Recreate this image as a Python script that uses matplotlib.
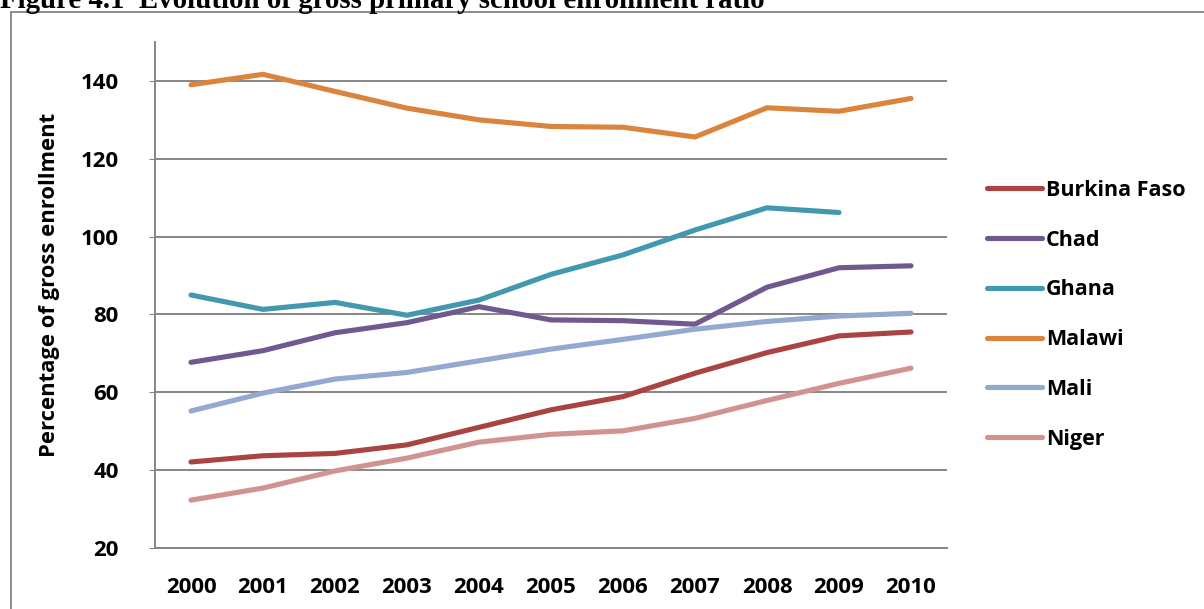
import numpy as np
import matplotlib
matplotlib.use("Agg")
from matplotlib import pyplot as plt
from matplotlib.lines import Line2D

# dados
years = ['2000', '2001', '2002', '2003', '2004', '2005', '2006', '2007', '2008', '2009', '2010']
burkina = [42.1, 43.7, 44.3, 46.5, 51.0, 55.5, 58.9, 64.9, 70.2, 74.5, 75.5]
chad = [67.7, 70.7, 75.3, 77.9, 82.0, 78.6, 78.4, 77.5, 87.0, 92.0, 92.5]
ghana = [85.0, 81.3, 83.1, 79.8, 83.7, 90.3, 95.3, 101.7, 107.4, 106.2, np.nan]
malawi = [139.0, 141.7, 137.3, 133.0, 130.0, 128.3, 128.1, 125.6, 133.1, 132.2, 135.5]
mali = [55.2, 59.8, 63.4, 65.1, 68.1, 71.1, 73.6, 76.2, 78.2, 79.6, 80.3]
niger = [32.3, 35.4, 39.8, 43.1, 47.2, 49.2, 50.1, 53.3, 57.9, 62.3, 66.2]

names = ['Burkina Faso', 'Chad', 'Ghana', 'Malawi', 'Mali', 'Niger']
series = [burkina, chad, ghana, malawi, mali, niger]
colors = ['#A94442', '#71588F', '#4198AF', '#DB843D', '#93A9CF', '#D19392']

fonte = 'Open Sans'
W, H = 1204, 609
fig = plt.figure(figsize=(W / 100, H / 100), dpi=100)
ax = fig.add_axes([155 / W, 1 - 548 / H, (947 - 155) / W, (548 - 42) / H])

x = np.arange(len(years))
for vals, nome, cor in zip(series, names, colors):
    ax.plot(x, vals, color=cor, lw=3.7, label=nome, solid_capstyle='round', solid_joinstyle='round')

ax.set_xlim(-0.5, len(years) - 0.5)
ax.set_ylim(20, 150)
ax.set_yticks(np.arange(20, 141, 20))
ax.set_xticks(x)
ax.set_xticklabels(years)
ax.yaxis.grid(True, color='#868686', lw=1.4)
ax.set_axisbelow(True)
for s in ['top', 'right']:
    ax.spines[s].set_visible(False)
ax.spines['left'].set_color('#868686')
ax.spines['bottom'].set_color('#868686')
ax.spines['left'].set_linewidth(1.4)
ax.spines['bottom'].set_linewidth(1.4)
ax.tick_params(axis='y', length=4, color='#868686', pad=22, labelsize=16)
ax.tick_params(axis='x', length=0, pad=21, labelsize=16)
for lab in ax.get_xticklabels() + ax.get_yticklabels():
    lab.set_fontfamily(fonte)
    lab.set_fontweight('bold')

ax.set_ylabel('Percentage of gross enrollment', fontsize=15.8, fontweight='bold', fontfamily=fonte)
ax.yaxis.set_label_coords((60 - 155) / (947 - 155), 0.519)

fs_leg = 15.5
px = fs_leg * 100 / 72
leg = ax.legend(loc='upper left', bbox_to_anchor=(987 / W, 1 - 180 / H), bbox_transform=fig.transFigure,
                frameon=False, borderpad=0, borderaxespad=0, handlelength=55 / px,
                handletextpad=4 / px, labelspacing=1.335,
                prop={'family': fonte, 'weight': 'bold', 'size': fs_leg})

# moldura da figura
cinza = '#8C8C8C'
fig.add_artist(Line2D([11 / W, 11 / W], [0, 1 - 12 / H], transform=fig.transFigure, color=cinza, lw=1.4))
fig.add_artist(Line2D([11 / W, 1], [1 - 12 / H, 1 - 12 / H], transform=fig.transFigure, color=cinza, lw=1.4))

fig.text(0, 1 - 8 / H, 'Figure 4.1  Evolution of gross primary school enrollment ratio', fontsize=20.8,
         fontweight='bold', fontfamily='Liberation Serif', va='baseline', ha='left')

fig.savefig('out.png', dpi=100)
